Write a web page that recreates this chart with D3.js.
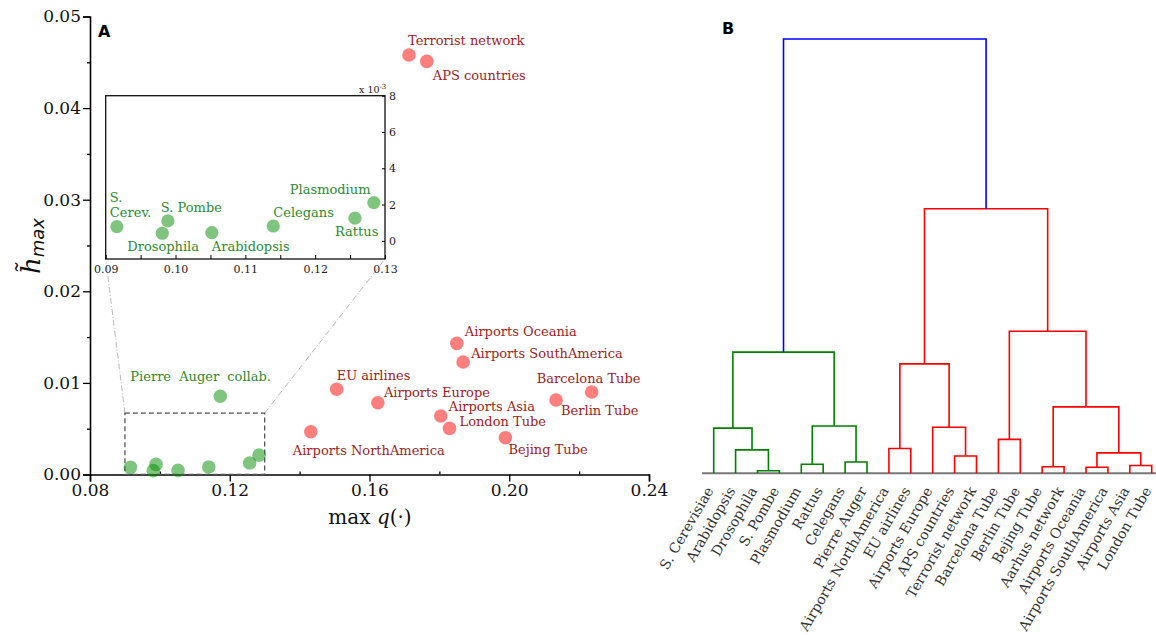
<!DOCTYPE html>
<html>
<head>
<meta charset="utf-8">
<script src="https://cdn.jsdelivr.net/npm/d3@7"></script>
<style>
body { margin: 0; background: #fff; }
text { font-family: "DejaVu Serif", serif; }
</style>
</head>
<body>
<svg id="fig" width="1156" height="635"></svg>
<script>

// ---- panel A data ----
var greenNames = ["S. Cerev.", "Drosophila", "S. Pombe", "Arabidopsis", "Celegans", "Rattus", "Plasmodium", "Pierre Auger collab."];
var greenQ = [0.0916, 0.0981, 0.0989, 0.1052, 0.1140, 0.1257, 0.1284, 0.1173];
var greenH = [0.00078, 0.00042, 0.00110, 0.00045, 0.00082, 0.00125, 0.00211, 0.00854];

var redNames = ["Terrorist network", "APS countries", "Airports Oceania", "Airports SouthAmerica", "EU airlines",
  "Airports Europe", "Barcelona Tube", "Berlin Tube", "Airports Asia", "London Tube", "Bejing Tube", "Airports NorthAmerica"];
var redQ = [0.1713, 0.1764, 0.1850, 0.1868, 0.1506, 0.1624, 0.2236, 0.2134, 0.1804, 0.1829, 0.1989, 0.1432];
var redH = [0.0458, 0.0451, 0.01432, 0.01228, 0.0093, 0.00784, 0.0090, 0.00813, 0.00639, 0.00504, 0.00402, 0.00467];

var xTicks = [0.08, 0.12, 0.16, 0.20, 0.24];
var xMinor = [0.10, 0.14, 0.18, 0.22];
var yTicks = [0, 0.01, 0.02, 0.03, 0.04, 0.05];
var yMinor = [0.005, 0.015, 0.025, 0.035, 0.045];
var insetXTicks = [0.09, 0.10, 0.11, 0.12, 0.13];
var insetXMinor = [0.095, 0.105, 0.115, 0.125];
var insetYTicks = [0, 2, 4, 6, 8];   // x 10^-3
var zoomBox = [0.09, 0.13, 0, 0.0067]; // q0, q1, h0, h1

// ---- panel B data (dendrogram) ----
var leafNames = ["S. Cerevisiae", "Arabidopsis", "Drosophila", "S. Pombe", "Plasmodium", "Rattus", "Celegans",
  "Pierre Auger", "Airports NorthAmerica", "EU airlines", "Airports Europe", "APS countries", "Terrorist network",
  "Barcelona Tube", "Berlin Tube", "Bejing Tube", "Aarhus network", "Airports Oceania", "Airports SouthAmerica",
  "Airports Asia", "London Tube"];
// merges numbered from 21 on, like a linkage table
var mergeLeft   = [2, 1, 0, 4, 6, 24, 23, 8, 11, 10, 28, 13, 15, 17, 19, 34, 33, 32, 31, 27];
var mergeRight  = [3, 21, 22, 5, 7, 25, 26, 9, 12, 29, 30, 14, 16, 18, 20, 35, 36, 37, 38, 39];
var mergeHeight = [0.006, 0.054, 0.104, 0.021, 0.026, 0.109, 0.279, 0.057, 0.040, 0.106, 0.252,
  0.078, 0.015, 0.014, 0.018, 0.047, 0.153, 0.327, 0.609, 1.0];


var svg = d3.select("#fig");

// label placement (text start relative to the dot)
var labelOff = {
  "Terrorist network": [-1, -10], "APS countries": [6, 19], "Airports Oceania": [8, -7],
  "Airports SouthAmerica": [8, -4], "EU airlines": [0, -9], "Airports Europe": [6, -6],
  "Barcelona Tube": [-55, -9], "Berlin Tube": [5, 15], "Airports Asia": [8, -5],
  "London Tube": [10, -2], "Bejing Tube": [3, 16], "Airports NorthAmerica": [-18, 23],
  "Pierre Auger collab.": [-90, -15],
  "Drosophila": [-35, 18], "S. Pombe": [-7, -9], "Arabidopsis": [0, 18],
  "Celegans": [0, -9], "Rattus": [-20, 18], "Plasmodium": [-84, -9]
};

var greenPt = "rgba(0,140,0,0.5)", redPt = "rgba(255,0,0,0.5)";
var greenTxt = "#2f8a2f", redTxt = "#a11c22";

// ---------- panel A ----------
var x = d3.scaleLinear().domain([0.08, 0.24]).range([90, 649]);
var y = d3.scaleLinear().domain([0, 0.05]).range([474.5, 16.5]);

var gx = svg.append("g").attr("transform", "translate(0," + y(0) + ")")
  .call(d3.axisBottom(x).tickValues(xTicks).tickFormat(d3.format(".2f")).tickSize(7).tickPadding(2));
svg.append("g").attr("transform", "translate(0," + y(0) + ")")
  .call(d3.axisBottom(x).tickValues(xMinor).tickFormat("").tickSize(-3))
  .select(".domain").remove();
var gy = svg.append("g").attr("transform", "translate(" + x(0.08) + ",0)")
  .call(d3.axisLeft(y).tickValues(yTicks).tickFormat(d3.format(".2f")).tickSize(7).tickPadding(2));
svg.append("g").attr("transform", "translate(" + x(0.08) + ",0)")
  .call(d3.axisLeft(y).tickValues(yMinor).tickFormat("").tickSize(3))
  .select(".domain").remove();

svg.selectAll(".domain").attr("stroke-width", 1.6);
svg.selectAll(".tick line").attr("stroke-width", 1.3);
gx.selectAll("text").style("font-size", "17px").attr("fill", "#111");
gy.selectAll("text").style("font-size", "17px").attr("fill", "#111");

// axis labels
var xl = svg.append("text").attr("x", 370).attr("y", 524).attr("text-anchor", "middle")
  .style("font-size", "20px").attr("fill", "#111");
xl.append("tspan").text("max ");
xl.append("tspan").attr("font-style", "italic").text("q");
xl.append("tspan").text("(\u00b7)");

var yl = svg.append("text").attr("transform", "translate(40,246) rotate(-90)")
  .attr("text-anchor", "middle").attr("fill", "#111");
yl.append("tspan").attr("font-style", "italic").style("font-size", "26px").text("h\u0303");
yl.append("tspan").attr("font-style", "italic").style("font-size", "18px")
  .style("font-family", "'DejaVu Sans', sans-serif").attr("dy", 4).text("max");

svg.append("text").attr("x", 98).attr("y", 37).text("A")
  .style("font-family", "'DejaVu Sans', sans-serif").style("font-weight", "bold").style("font-size", "16px");

// zoom box and connectors
var ix = d3.scaleLinear().domain([0.09, 0.13]).range([105.7, 385]);
var iy = d3.scaleLinear().domain([-1, 8]).range([259, 95.7]);

svg.append("line").attr("x1", x(zoomBox[0])).attr("y1", y(zoomBox[3]))
  .attr("x2", ix(0.09)).attr("y2", iy(-1))
  .attr("stroke", "#bbb").attr("stroke-width", 1).attr("stroke-dasharray", "6,2,1,2");
svg.append("line").attr("x1", x(zoomBox[1])).attr("y1", y(zoomBox[3]))
  .attr("x2", ix(0.13)).attr("y2", iy(-1))
  .attr("stroke", "#bbb").attr("stroke-width", 1).attr("stroke-dasharray", "6,2,1,2");
svg.append("rect").attr("x", x(zoomBox[0])).attr("y", y(zoomBox[3]))
  .attr("width", x(zoomBox[1]) - x(zoomBox[0])).attr("height", y(zoomBox[2]) - y(zoomBox[3]))
  .attr("fill", "none").attr("stroke", "#555").attr("stroke-width", 1.3).attr("stroke-dasharray", "5,3");

// main dots
var allPts = [];
greenNames.forEach(function (n, i) { allPts.push({ name: n, q: greenQ[i], h: greenH[i], g: 0 }); });
redNames.forEach(function (n, i) { allPts.push({ name: n, q: redQ[i], h: redH[i], g: 1 }); });

svg.append("g").selectAll("circle").data(allPts).enter().append("circle")
  .attr("cx", function (d) { return x(d.q); })
  .attr("cy", function (d) { return y(d.h); })
  .attr("r", 6.8)
  .attr("fill", function (d) { return d.g ? redPt : greenPt; });

// main labels (red ones + Pierre Auger)
var mainLab = allPts.filter(function (d) { return d.g == 1 || d.name == "Pierre Auger collab."; });
svg.append("g").selectAll("text").data(mainLab).enter().append("text")
  .attr("x", function (d) { return x(d.q) + labelOff[d.name][0]; })
  .attr("y", function (d) { return y(d.h) + labelOff[d.name][1]; })
  .style("font-size", "13px")
  .style("word-spacing", function (d) { return d.g ? "0px" : "4px"; })
  .attr("fill", function (d) { return d.g ? redTxt : greenTxt; })
  .text(function (d) { return d.name; });

// ---------- inset ----------
var inset = svg.append("g");
inset.append("rect").attr("x", ix(0.09)).attr("y", iy(8))
  .attr("width", ix(0.13) - ix(0.09)).attr("height", iy(-1) - iy(8))
  .attr("fill", "#fff").attr("stroke", "#111").attr("stroke-width", 1.3);

var ixa = inset.append("g").attr("transform", "translate(0," + iy(-1) + ")")
  .call(d3.axisBottom(ix).tickValues(insetXTicks).tickFormat(d3.format(".2f")).tickSize(-4).tickPadding(6));
inset.append("g").attr("transform", "translate(0," + iy(-1) + ")")
  .call(d3.axisBottom(ix).tickValues(insetXMinor).tickFormat("").tickSize(-4));
var iya = inset.append("g").attr("transform", "translate(" + ix(0.13) + ",0)")
  .call(d3.axisRight(iy).tickValues(insetYTicks).tickFormat(d3.format("d")).tickSize(-3).tickPadding(4));
inset.selectAll(".domain").remove();
ixa.selectAll("text").style("font-size", "11px").attr("fill", "#222");
iya.selectAll("text").style("font-size", "11px").attr("fill", "#222");

var xe = inset.append("text").attr("x", 359).attr("y", 93).style("font-size", "9.5px").attr("fill", "#222");
xe.append("tspan").text("x 10");
xe.append("tspan").attr("dy", -4).style("font-size", "7px").text("-3");

var inPts = allPts.filter(function (d) { return d.q >= 0.09 && d.q <= 0.13 && d.h * 1000 <= 8; });
inset.append("g").selectAll("circle").data(inPts).enter().append("circle")
  .attr("cx", function (d) { return ix(d.q); })
  .attr("cy", function (d) { return iy(d.h * 1000); })
  .attr("r", 6.6)
  .attr("fill", greenPt);

inset.append("g").selectAll("text").data(inPts.filter(function (d) { return d.name != "S. Cerev."; }))
  .enter().append("text")
  .attr("x", function (d) { return ix(d.q) + labelOff[d.name][0]; })
  .attr("y", function (d) { return iy(d.h * 1000) + labelOff[d.name][1]; })
  .style("font-size", "13px").attr("fill", greenTxt)
  .text(function (d) { return d.name; });
// S. Cerev. on two lines
var sc = inPts.filter(function (d) { return d.name == "S. Cerev."; })[0];
var sct = inset.append("text").style("font-size", "13px").attr("fill", greenTxt);
sc.name.split(" ").forEach(function (w, i) {
  sct.append("tspan").attr("x", ix(sc.q) - 7).attr("y", iy(sc.h * 1000) - 25 + i * 15.6).text(w);
});

// ---------- panel B ----------
svg.append("text").attr("x", 722).attr("y", 34).text("B")
  .style("font-family", "'DejaVu Sans', sans-serif").style("font-weight", "bold").style("font-size", "16px");

var dx = d3.scalePoint().domain(d3.range(leafNames.length)).range([713.7, 1151.7]);
var dy = d3.scaleLinear().domain([0, 1]).range([473.3, 39]);

var nodes = leafNames.map(function (n, i) { return { x: dx(i), h: 0 }; });
mergeLeft.forEach(function (l, k) {
  var r = mergeRight[k];
  nodes.push({ x: (nodes[l].x + nodes[r].x) / 2, h: mergeHeight[k], l: l, r: r });
});

// colour: root is blue, its two subtrees green / red
var clusterColors = ["#008000", "#ff0000"];
var root = nodes.length - 1;
function paint(id, c) {
  nodes[id].color = c;
  if (nodes[id].l !== undefined) { paint(nodes[id].l, c); paint(nodes[id].r, c); }
}
paint(nodes[root].l, clusterColors[0]);
paint(nodes[root].r, clusterColors[1]);
nodes[root].color = "#0000ff";

svg.append("line").attr("x1", 702).attr("x2", 1156).attr("y1", dy(0)).attr("y2", dy(0))
  .attr("stroke", "#777").attr("stroke-width", 2);

var merges = nodes.filter(function (d) { return d.l !== undefined; });
svg.append("g").selectAll("path").data(merges).enter().append("path")
  .attr("d", function (d) {
    var a = nodes[d.l], b = nodes[d.r];
    return "M" + a.x + "," + dy(a.h) + "V" + dy(d.h) + "H" + b.x + "V" + dy(b.h);
  })
  .attr("fill", "none")
  .attr("stroke", function (d) { return d.color; })
  .attr("stroke-width", 1.6);

svg.append("g").selectAll("text").data(leafNames).enter().append("text")
  .attr("transform", function (d, i) { return "translate(" + (dx(i) - 4) + ",488) rotate(-60)"; })
  .attr("text-anchor", "end")
  .attr("dy", "0.35em")
  .style("font-size", "14px").attr("fill", "#333")
  .text(function (d) { return d; });

</script>
</body>
</html>
